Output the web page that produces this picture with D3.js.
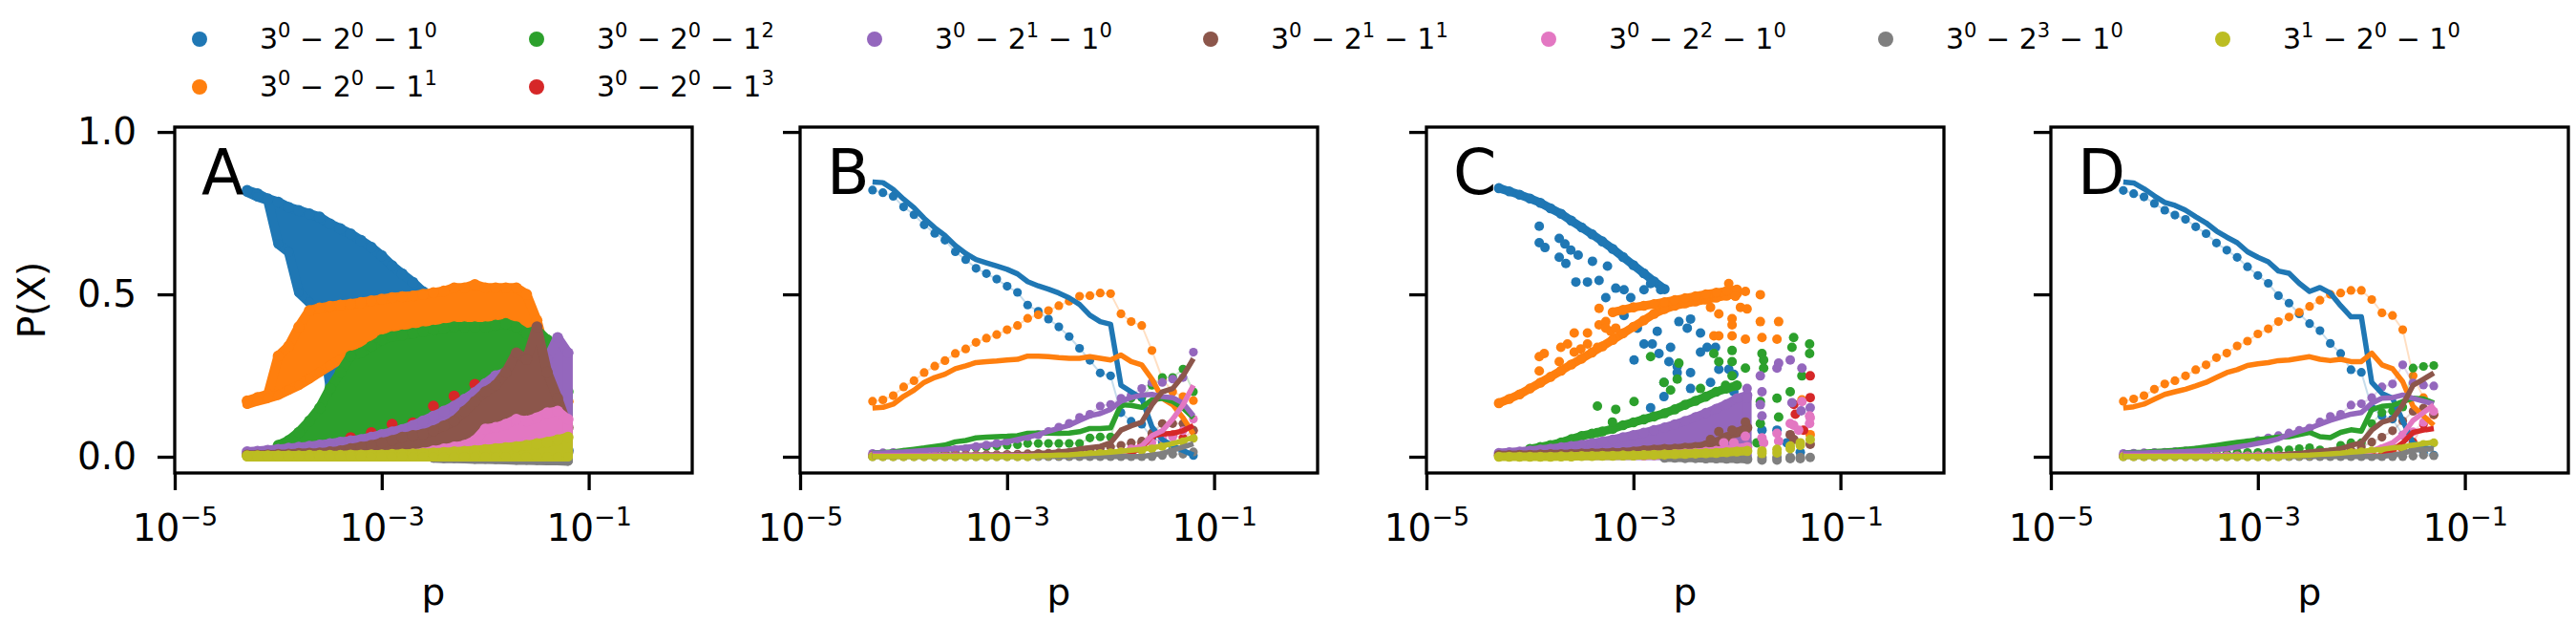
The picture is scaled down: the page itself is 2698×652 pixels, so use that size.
<!DOCTYPE html>
<html>
<head>
<meta charset="utf-8">
<script src="https://cdn.jsdelivr.net/npm/d3@7"></script>
<style>
  body { margin: 0; background: #fff; }
  svg { display: block; }
  text { font-family: "DejaVu Sans", sans-serif; }
</style>
</head>
<body>
<svg id="fig" width="2698" height="652"></svg>
<script>
// p grid shared by all panels
var pGrid = [5.01e-5, 6.31e-5, 7.94e-5, 1.00e-4, 1.26e-4, 1.58e-4, 2.00e-4, 2.51e-4, 3.16e-4, 3.98e-4,
             5.01e-4, 6.31e-4, 7.94e-4, 1.00e-3, 1.26e-3, 1.58e-3, 2.00e-3, 2.51e-3, 3.16e-3, 3.98e-3,
             5.01e-3, 6.31e-3, 7.94e-3, 1.00e-2, 1.26e-2, 1.58e-2, 2.00e-2, 2.51e-2, 3.16e-2, 3.98e-2,
             5.01e-2, 6.31e-2];
// exponents of 3^a - 2^b - 1^c
var seriesExp = [[0,0,0],[0,0,1],[0,0,2],[0,0,3],[0,1,0],[0,1,1],[0,2,0],[0,3,0],[1,0,0]];
var colors = ["#1f77b4","#ff7f0e","#2ca02c","#d62728","#9467bd","#8c564b","#e377c2","#7f7f7f","#bcbd22"];
var panelNames = ["A","B","C","D"];
var xTicks = [1e-5, 1e-3, 1e-1];
var yTicks = [0, 0.5, 1.0];

// ---- panel A : envelope of the dense cloud (low / high) ----
var aBlueHi = [0.82,0.81,0.794,0.784,0.768,0.758,0.748,0.738,0.717,0.702,0.686,0.666,0.645,0.619,0.588,0.563,0.537,0.508,0.47,0.44,0.40,0.36,0.32,0.28,0.24,0.20,0.16,0.12,0.08,0.06,0.04,0.02];
var aBlueLo = [0.815,0.80,0.79,0.655,0.63,0.506,0.475,0.44,0.22,0.24,0.26,0.27,0.27,0.27,0.27,0.27,0.27,0.26,0.24,0.22,0.20,0.18,0.15,0.12,0.10,0.08,0.06,0.04,0.02,0.01,0.0,0.0];
var aOrangeHi = [0.172,0.182,0.192,0.31,0.34,0.40,0.45,0.458,0.463,0.467,0.47,0.475,0.48,0.485,0.49,0.493,0.495,0.50,0.505,0.51,0.52,0.52,0.53,0.52,0.52,0.52,0.52,0.50,0.42,0.30,0.18,0.17];
var aOrangeLo = [0.162,0.172,0.18,0.19,0.205,0.22,0.24,0.26,0.28,0.30,0.30,0.30,0.30,0.30,0.30,0.30,0.30,0.30,0.30,0.30,0.30,0.30,0.30,0.30,0.30,0.30,0.30,0.25,0.20,0.18,0.14,0.14];
var aGreenHi = [null,null,null,0.035,0.05,0.075,0.11,0.15,0.21,0.26,0.31,0.32,0.34,0.36,0.37,0.375,0.38,0.385,0.39,0.395,0.40,0.40,0.40,0.40,0.405,0.41,0.40,0.38,0.39,0.36,0.34,0.20];
var aGreenLo = [null,null,null,0.02,0.02,0.02,0.02,0.02,0.02,0.02,0.02,0.025,0.03,0.03,0.035,0.04,0.04,0.045,0.05,0.05,0.05,0.05,0.05,0.06,0.06,0.06,0.06,0.06,0.05,0.05,0.05,0.10];
var aRed = [null,null,null,null,null,null,null,null,null,null,0.059,null,0.074,null,0.10,null,0.104,null,0.156,null,0.187,null,0.223,null,null,null,null,null,0.25,null,0.20,null];
var aPurpleHi = [0.015,0.017,0.02,0.023,0.026,0.029,0.032,0.036,0.04,0.045,0.049,0.053,0.06,0.068,0.076,0.084,0.096,0.11,0.125,0.14,0.156,0.177,0.198,0.225,0.249,0.26,0.27,0.28,0.28,0.30,0.367,0.32];
var aPurpleLo = [0.003,0.003,0.003,0.003,0.003,0.003,0.003,0.003,0.003,0.003,0.003,0.003,0.003,0.003,0.003,0.003,0.003,0.003,0.003,0.003,0.003,0.003,0.003,0.003,0.003,0.003,0.003,0.003,0.003,0.003,0.003,0.003];
var aBrownHi = [0.005,0.005,0.006,0.007,0.008,0.01,0.011,0.012,0.015,0.018,0.025,0.03,0.035,0.043,0.05,0.06,0.065,0.07,0.08,0.095,0.11,0.14,0.17,0.2,0.22,0.26,0.32,0.30,0.40,0.26,0.18,0.09];
var aBrownLo = [0.002,0.002,0.002,0.002,0.002,0.002,0.002,0.002,0.002,0.002,0.002,0.002,0.002,0.002,0.002,0.002,0.002,0.002,0.002,0.002,0.002,0.002,0.002,0.002,0.002,0.002,0.002,0.002,0.002,0.002,0.002,0.002];
var aPinkHi = [null,null,null,null,null,null,null,null,null,null,null,null,null,null,0.004,0.005,0.008,0.012,0.018,0.024,0.03,0.035,0.05,0.085,0.09,0.10,0.115,0.11,0.12,0.135,0.14,0.115];
var aPinkLo = [null,null,null,null,null,null,null,null,null,null,null,null,null,null,0.002,0.002,0.002,0.002,0.002,0.002,0.002,0.002,0.002,0.002,0.002,0.002,0.002,0.002,0.002,0.002,0.002,0.002];
var aGrayHi = [null,null,null,null,null,null,null,null,null,null,null,null,null,null,null,null,null,null,0.002,0.003,0.003,0.004,0.005,0.005,0.006,0.007,0.008,0.009,0.01,0.012,0.013,0.015];
var aGrayLo = [null,null,null,null,null,null,null,null,null,null,null,null,null,null,null,null,null,null,-0.004,-0.005,-0.005,-0.006,-0.007,-0.007,-0.008,-0.009,-0.01,-0.01,-0.011,-0.012,-0.012,-0.013];
var aYellowHi = [0.003,0.003,0.003,0.003,0.003,0.003,0.004,0.004,0.004,0.004,0.005,0.005,0.006,0.006,0.007,0.008,0.009,0.01,0.012,0.013,0.015,0.017,0.019,0.022,0.025,0.028,0.031,0.035,0.04,0.045,0.052,0.06];
var aYellowLo = [0,0,0,0,0,0,0,0,0,0,0,0,0,0,0,0,0,0,0,0,0,0,0,0,0,0,0,0,0,0,0,0];

// ---- panel B : measured dots and model line ----
var bBlueDots = [0.821,0.813,0.802,0.769,0.745,0.714,0.688,0.667,0.631,0.607,0.58,0.564,0.547,0.525,0.506,0.467,0.448,0.424,0.40,0.37,0.334,0.297,0.258,0.249,0.136,0.109,0.10,0.058,0.044,0.024,0.014,0.004];
var bBlueLine = [0.846,0.844,0.823,0.793,0.767,0.734,0.705,0.681,0.65,0.626,0.607,0.597,0.587,0.577,0.563,0.539,0.526,0.516,0.504,0.489,0.469,0.436,0.416,0.408,0.22,0.20,0.18,0.092,0.053,0.034,0.019,0.005];
var bOrangeDots = [0.171,0.175,0.188,0.215,0.234,0.259,0.279,0.296,0.318,0.332,0.352,0.365,0.376,0.391,0.404,0.426,0.437,0.45,0.465,0.479,0.494,0.496,0.504,0.502,0.44,0.416,0.404,0.327,0.24,0.20,0.185,0.173];
var bOrangeLine = [0.15,0.152,0.162,0.186,0.205,0.229,0.244,0.254,0.271,0.28,0.29,0.293,0.295,0.298,0.30,0.31,0.31,0.308,0.305,0.303,0.303,0.308,0.303,0.298,0.313,0.293,0.283,0.239,0.18,0.16,0.12,0.07];
var bGreenDots = [0.004,0.004,0.005,0.005,0.006,0.007,0.01,0.014,0.019,0.024,0.028,0.031,0.033,0.035,0.037,0.041,0.041,0.041,0.041,0.041,0.041,0.058,0.061,0.061,0.16,0.18,0.182,0.22,0.244,0.244,0.27,0.20];
var bGreenLine = [0.012,0.013,0.015,0.019,0.023,0.027,0.032,0.036,0.046,0.05,0.058,0.06,0.062,0.063,0.065,0.072,0.073,0.073,0.072,0.073,0.077,0.087,0.087,0.089,0.16,0.158,0.152,0.175,0.18,0.17,0.15,0.12];
var bRedDots = [0.002,0.002,0.002,0.002,0.002,0.002,0.002,0.002,0.002,0.002,0.002,0.002,0.002,0.002,0.002,0.002,0.002,0.002,0.002,0.002,0.002,0.002,0.002,0.002,0.005,0.01,0.04,0.063,0.068,0.068,0.058,0.08];
var bRedLine = [0.002,0.002,0.002,0.002,0.002,0.002,0.002,0.002,0.002,0.002,0.002,0.002,0.002,0.002,0.002,0.002,0.002,0.002,0.002,0.002,0.002,0.002,0.002,0.002,0.005,0.012,0.027,0.065,0.07,0.072,0.08,0.096];
var bPurpleDots = [0.01,0.012,0.013,0.014,0.016,0.018,0.019,0.02,0.022,0.024,0.031,0.036,0.041,0.048,0.055,0.062,0.068,0.078,0.091,0.103,0.121,0.131,0.156,0.161,0.18,0.19,0.21,0.229,0.229,0.239,0.244,0.322];
var bPurpleLine = [0.011,0.012,0.013,0.015,0.017,0.019,0.021,0.023,0.026,0.029,0.033,0.036,0.04,0.046,0.053,0.06,0.068,0.078,0.088,0.097,0.112,0.126,0.133,0.146,0.171,0.182,0.19,0.192,0.185,0.182,0.165,0.126];
var bBrownDots = [0.004,0.004,0.004,0.004,0.004,0.004,0.004,0.004,0.004,0.005,0.005,0.006,0.006,0.007,0.008,0.009,0.01,0.011,0.012,0.013,0.015,0.02,0.025,0.03,0.035,0.043,0.048,0.073,0.102,0.102,0.102,0.082];
var bBrownLine = [0.004,0.004,0.004,0.004,0.004,0.004,0.004,0.005,0.005,0.005,0.005,0.006,0.006,0.006,0.007,0.008,0.01,0.012,0.015,0.018,0.024,0.028,0.032,0.043,0.082,0.095,0.106,0.16,0.20,0.21,0.249,0.302];
var bPinkDots = [0.003,0.003,0.003,0.003,0.003,0.003,0.003,0.003,0.003,0.003,0.003,0.003,0.003,0.003,0.003,0.003,0.003,0.003,0.003,0.003,0.003,0.003,0.003,0.01,0.015,0.024,0.028,0.043,0.057,0.06,0.08,0.116];
var bPinkLine = [0.003,0.003,0.003,0.003,0.003,0.003,0.003,0.003,0.003,0.003,0.003,0.003,0.003,0.003,0.003,0.003,0.003,0.003,0.003,0.003,0.003,0.003,0.003,0.008,0.012,0.024,0.033,0.065,0.08,0.116,0.16,0.22];
var bGrayDots = [0,0,0,0,0,0,0,0,0,0,0,0,0,0,0,0,0,0,0,0,0,0,0,0,0,0,0,0,0.004,0.008,0.008,0.015];
var bGrayLine = [0.001,0.001,0.001,0.001,0.001,0.001,0.001,0.001,0.001,0.001,0.001,0.001,0.001,0.001,0.001,0.001,0.001,0.001,0.001,0.001,0.001,0.001,0.001,0.001,0.001,0.001,0.001,0.005,0.01,0.02,0.03,0.04];
var bYellowDots = [0,0,0,0,0,0,0,0,0,0,0,0,0,0,0,0,0.002,0.003,0.004,0.005,0.006,0.008,0.01,0.012,0.015,0.018,0.02,0.024,0.032,0.036,0.046,0.057];
var bYellowLine = [0.001,0.001,0.001,0.001,0.001,0.001,0.001,0.001,0.001,0.001,0.001,0.001,0.001,0.001,0.001,0.001,0.003,0.004,0.005,0.006,0.008,0.01,0.012,0.014,0.017,0.02,0.023,0.027,0.034,0.04,0.05,0.06];

// ---- panel C : main strands on the grid + scattered runs [log10 p, P] ----
var cBlueMain = [0.827,0.817,0.807,0.795,0.782,0.765,0.748,0.727,0.706,0.685,0.663,0.64,0.615,0.59,0.565,0.54,0.516];
var cOrangeMain = [0.165,0.178,0.192,0.21,0.228,0.246,0.265,0.284,0.302,0.321,0.34,0.36,0.38,0.40,0.42,0.44,0.455,0.465,0.472,0.478,0.484,0.49,0.496,0.502];
var cOrangeUpper = [null,null,null,null,null,null,null,null,null,null,null,0.445,0.452,0.46,0.465,0.47,0.476,0.482,0.488,0.494,0.50,0.505,0.51,0.515];
var cGreenMain = [null,null,null,0.024,0.03,0.036,0.044,0.054,0.064,0.071,0.078,0.086,0.097,0.106,0.115,0.124,0.134,0.146,0.16,0.172,0.185,0.20,0.21,0.22];
var cPurpleTop = [0.012,0.014,0.016,0.019,0.022,0.025,0.029,0.033,0.037,0.042,0.047,0.053,0.06,0.067,0.074,0.082,0.09,0.1,0.11,0.122,0.135,0.148,0.162,0.18,0.19];
var cPurpleBase = [0.003,0.003,0.003,0.003,0.003,0.003,0.003,0.003,0.003,0.003,0.003,0.003,0.003,0.003,0.003,0.003,0.003,0.003,0.003,0.003,0.003,0.003,0.003,0.003,0.003];
var cBrownMain = [0.005,0.005,0.006,0.006,0.007,0.008,0.008,0.009,0.01,0.011,0.012,0.013,0.014,0.016,0.02,0.022,0.024,0.025,0.028,0.03,0.035,0.045,0.06,0.075,0.09];
var cPinkMain = [null,null,null,null,null,null,null,null,null,null,null,null,null,null,0.004,0.005,0.006,0.008,0.01,0.012,0.015,0.018,0.022,0.026,0.03];
var cGrayMain = [null,null,null,null,null,null,null,null,null,null,null,null,null,null,null,null,-0.003,-0.003,-0.004,-0.004,-0.005,-0.005,-0.006,-0.006,-0.007];
var cYellowMain = [0,0,0,0,0,0,0.001,0.001,0.002,0.002,0.003,0.003,0.004,0.004,0.005,0.006,0.007,0.008,0.009,0.01,0.011,0.012,0.014,0.016,0.018];

var cBlueScatter = [[-3.91,0.71],[-3.91,0.659],[-3.855,0.644],[-3.717,0.672],[-3.662,0.655],[-3.605,0.636],[-3.534,0.621],[-3.717,0.614],[-3.653,0.595],[-3.556,0.538],[-3.444,0.538],[-3.396,0.602],[-3.332,0.543],[-3.267,0.49],[-3.251,0.587],[-3.171,0.519],[-3.091,0.514],[-3.026,0.49],[-2.898,0.514],[-2.834,0.533],[-2.737,0.514],[-2.994,0.298],[-2.898,0.347],[-2.818,0.347],[-2.753,0.318],[-2.657,0.293],[-2.577,0.278],[-2.561,0.416],[-2.48,0.396],[-2.448,0.424],[-2.352,0.381],[-2.288,0.337],[-2.207,0.337],[-2.352,0.322],[-2.255,0.229],[-2.448,0.21],[-2.705,0.185],[-2.834,0.151],[-2.175,0.269],[-2.079,0.269],[-2.03,0.254],[-2.03,0.2],[-1.95,0.136],[-1.918,0.043],[-1.758,0.082],[-1.613,0.082],[-1.517,0.043],[-1.388,0.014],[-3.091,0.435],[-2.962,0.396],[-2.77,0.386],[-2.641,0.337],[-2.577,0.259],[-2.448,0.259],[-2.705,0.229]];
var cOrangeScatter = [[-3.332,0.457],[-3.572,0.381],[-3.444,0.381],[-3.332,0.406],[-3.267,0.416],[-3.219,0.386],[-3.91,0.308],[-3.91,0.264],[-3.862,0.318],[-3.717,0.293],[-3.701,0.337],[-3.637,0.347],[-3.572,0.322],[-3.508,0.332],[-3.444,0.347],[-3.348,0.337],[-3.267,0.396],[-3.171,0.396],[-2.255,0.46],[-2.175,0.44],[-2.079,0.533],[-2.015,0.494],[-1.966,0.46],[-1.918,0.509],[-2.047,0.425],[-2.047,0.406],[-1.902,0.455],[-1.774,0.499],[-1.774,0.416],[-1.597,0.416],[-2.223,0.372],[-2.175,0.372],[-2.047,0.372],[-1.918,0.362],[-1.758,0.367],[-1.613,0.362],[-1.292,0.068],[-1.372,0.175]];
var cGreenScatter = [[-3.348,0.156],[-3.171,0.146],[-2.994,0.17],[-3.348,0.074],[-3.54,0.053],[-3.203,0.107],[-2.834,0.308],[-2.705,0.229],[-2.641,0.205],[-2.561,0.288],[-2.577,0.239],[-2.352,0.21],[-2.223,0.318],[-2.175,0.293],[-2.047,0.327],[-2.047,0.293],[-2.047,0.249],[-2.11,0.22],[-1.918,0.273],[-1.902,0.043],[-1.758,0.318],[-1.742,0.298],[-1.742,0.273],[-1.774,0.17],[-1.774,0.102],[-1.613,0.18],[-1.597,0.122],[-1.485,0.2],[-1.468,0.337],[-1.452,0.367],[-1.372,0.249],[-1.298,0.347],[-1.298,0.318],[-1.806,0.043]];
var cRedScatter = [[-1.292,0.249],[-1.292,0.182],[-1.436,0.131],[-1.356,0.082],[-1.45,0.161],[-2.223,0.023]];
var cPurpleScatter = [[-1.774,0.249],[-1.758,0.2],[-1.774,0.16],[-1.758,0.126],[-1.597,0.288],[-1.613,0.273],[-1.485,0.298],[-1.372,0.273],[-1.468,0.166],[-1.292,0.151],[-1.38,0.141],[-1.902,0.18],[-1.902,0.21]];
var cBrownScatter = [[-2.255,0.053],[-2.175,0.077],[-2.047,0.082],[-1.918,0.107],[-2.13,0.043],[-1.485,0.068],[-1.292,0.038],[-1.45,0.053],[-1.92,0.08]];
var cPinkScatter = [[-2.127,0.043],[-2.03,0.043],[-1.918,0.063],[-1.758,0.058],[-1.742,0.043],[-1.613,0.072],[-1.597,0.048],[-1.485,0.102],[-1.452,0.097],[-1.372,0.17],[-1.298,0.126],[-1.298,0.102],[-1.292,0.12],[-1.404,0.082]];
var cGrayScatter = [[-1.918,-0.005],[-1.758,-0.002],[-1.613,-0.002],[-1.485,-0.002],[-1.388,-0.002],[-1.292,-0.002],[-1.758,-0.01],[-1.613,-0.01],[-1.485,-0.006],[-1.388,-0.006]];
var cYellowScatter = [[-1.758,0.018],[-1.613,0.023],[-1.485,0.033],[-1.388,0.043],[-1.292,0.053],[-1.758,0.01],[-1.613,0.012],[-1.485,0.025],[-1.388,0.035]];

// ---- panel D : measured dots and model line ----
var dBlueDots = [0.82,0.81,0.80,0.78,0.759,0.744,0.731,0.708,0.687,0.658,0.636,0.614,0.585,0.558,0.534,0.496,0.473,0.44,0.41,0.388,0.349,0.318,0.268,0.26,0.15,0.126,0.116,0.067,0.024,0.014,0.005];
var dBlueLine = [0.846,0.843,0.825,0.803,0.783,0.774,0.759,0.739,0.72,0.695,0.676,0.659,0.631,0.614,0.60,0.572,0.565,0.534,0.509,0.521,0.504,0.465,0.431,0.431,0.229,0.195,0.18,0.111,0.043,0.027,0.024];
var dOrangeDots = [0.171,0.178,0.188,0.208,0.224,0.234,0.249,0.268,0.283,0.305,0.319,0.341,0.356,0.378,0.394,0.416,0.43,0.445,0.463,0.482,0.50,0.504,0.512,0.512,0.484,0.443,0.435,0.391,0.249,0.182,0.129];
var dOrangeLine = [0.15,0.154,0.162,0.177,0.192,0.20,0.208,0.218,0.229,0.244,0.259,0.268,0.281,0.286,0.29,0.296,0.298,0.303,0.308,0.30,0.296,0.30,0.293,0.293,0.319,0.283,0.271,0.231,0.155,0.126,0.097];
var dGreenDots = [0.003,0.003,0.003,0.004,0.004,0.005,0.006,0.007,0.008,0.009,0.01,0.013,0.013,0.013,0.013,0.021,0.021,0.025,0.028,0.021,0.015,0.035,0.043,0.043,0.102,0.136,0.141,0.153,0.273,0.278,0.281];
var dGreenLine = [0.012,0.013,0.014,0.016,0.018,0.02,0.023,0.026,0.03,0.035,0.04,0.044,0.048,0.052,0.057,0.06,0.062,0.068,0.075,0.062,0.059,0.075,0.083,0.079,0.145,0.155,0.158,0.17,0.18,0.178,0.165];
var dRedDots = [0.002,0.002,0.002,0.002,0.002,0.002,0.002,0.002,0.002,0.002,0.002,0.002,0.002,0.002,0.002,0.002,0.002,0.002,0.002,0.002,0.002,0.002,0.002,0.002,0.002,0.002,0.01,0.024,0.045,0.10,0.13];
var dRedLine = [0.002,0.002,0.002,0.002,0.002,0.002,0.002,0.002,0.002,0.002,0.002,0.002,0.002,0.002,0.002,0.002,0.002,0.002,0.002,0.002,0.002,0.002,0.002,0.002,0.002,0.002,0.02,0.043,0.075,0.082,0.087];
var dPurpleDots = [0.01,0.011,0.012,0.013,0.014,0.016,0.018,0.02,0.023,0.027,0.032,0.037,0.043,0.05,0.058,0.065,0.073,0.081,0.088,0.107,0.124,0.131,0.159,0.163,0.182,0.215,0.224,0.283,0.227,0.221,0.218];
var dPurpleLine = [0.011,0.011,0.012,0.013,0.014,0.015,0.016,0.018,0.02,0.022,0.025,0.03,0.035,0.041,0.047,0.055,0.068,0.078,0.088,0.10,0.112,0.122,0.131,0.136,0.165,0.18,0.182,0.19,0.18,0.171,0.163];
var dBrownDots = [0.003,0.003,0.003,0.003,0.003,0.003,0.003,0.003,0.003,0.003,0.003,0.003,0.003,0.003,0.003,0.003,0.003,0.003,0.003,0.01,0.012,0.015,0.02,0.03,0.045,0.06,0.08,0.11,0.14,0.15,0.13];
var dBrownLine = [0.004,0.004,0.004,0.004,0.004,0.004,0.004,0.004,0.004,0.004,0.004,0.004,0.004,0.004,0.005,0.006,0.008,0.01,0.015,0.018,0.02,0.025,0.035,0.043,0.082,0.106,0.116,0.16,0.22,0.239,0.258];
var dPinkDots = [0.003,0.003,0.003,0.003,0.003,0.003,0.003,0.003,0.003,0.003,0.003,0.003,0.003,0.003,0.003,0.003,0.003,0.003,0.003,0.003,0.003,0.003,0.003,0.008,0.015,0.025,0.03,0.067,0.077,0.106,0.14];
var dPinkLine = [0.003,0.003,0.003,0.003,0.003,0.003,0.003,0.003,0.003,0.003,0.003,0.003,0.003,0.003,0.003,0.003,0.003,0.003,0.003,0.003,0.003,0.003,0.005,0.01,0.018,0.03,0.043,0.068,0.112,0.136,0.16];
var dGrayDots = [0,0,0,0,0,0,0,0,0,0,0,0,0,0,0,0,0,0,0,0,0,0,0,0,0,0,0,0,0.002,0.005,0.003];
var dGrayLine = [0.001,0.001,0.001,0.001,0.001,0.001,0.001,0.001,0.001,0.001,0.001,0.001,0.001,0.001,0.001,0.001,0.001,0.001,0.001,0.001,0.001,0.001,0.001,0.001,0.001,0.001,0.005,0.01,0.02,0.023,0.024];
var dYellowDots = [0,0,0,0,0,0,0,0,0,0,0,0,0,0,0,0,0.002,0.003,0.004,0.006,0.008,0.01,0.013,0.015,0.018,0.021,0.025,0.028,0.035,0.038,0.043];
var dYellowLine = [0.001,0.001,0.001,0.001,0.001,0.001,0.001,0.001,0.001,0.001,0.001,0.001,0.001,0.001,0.001,0.001,0.003,0.004,0.005,0.007,0.009,0.011,0.014,0.016,0.02,0.023,0.027,0.03,0.036,0.04,0.045];

// tables built from the arrays above
var aBands = [[aBlueLo,aBlueHi],[aOrangeLo,aOrangeHi],[aGreenLo,aGreenHi],[aRed,aRed],[aPurpleLo,aPurpleHi],
              [aBrownLo,aBrownHi],[aPinkLo,aPinkHi],[aGrayLo,aGrayHi],[aYellowLo,aYellowHi]];
var bDots = [bBlueDots,bOrangeDots,bGreenDots,bRedDots,bPurpleDots,bBrownDots,bPinkDots,bGrayDots,bYellowDots];
var bLines = [bBlueLine,bOrangeLine,bGreenLine,bRedLine,bPurpleLine,bBrownLine,bPinkLine,bGrayLine,bYellowLine];
var dDots = [dBlueDots,dOrangeDots,dGreenDots,dRedDots,dPurpleDots,dBrownDots,dPinkDots,dGrayDots,dYellowDots];
var dLines = [dBlueLine,dOrangeLine,dGreenLine,dRedLine,dPurpleLine,dBrownLine,dPinkLine,dGrayLine,dYellowLine];
var cStrands = [[[cBlueMain,cBlueMain]], [[cOrangeMain,cOrangeMain],[cOrangeUpper,cOrangeUpper]], [[cGreenMain,cGreenMain]], [],
                [[cPurpleBase,cPurpleTop]], [[cBrownMain,cBrownMain]], [[cPinkMain,cPinkMain]], [[cGrayMain,cGrayMain]], [[cYellowMain,cYellowMain]]];
var cScatter = [cBlueScatter,cOrangeScatter,cGreenScatter,cRedScatter,cPurpleScatter,cBrownScatter,cPinkScatter,cGrayScatter,cYellowScatter];

// ---- layout ----
var panelLeft = [183, 838, 1494, 2148], panelTop = 133, pw = 542, ph = 362;
var svg = d3.select("#fig");
var x = d3.scaleLog().domain([1e-5, 1]).range([0, pw]);
var y = d3.scaleLinear().domain([-0.05, 1.015]).range([ph, 0]);

function isDef(v) { return v !== null && v !== undefined; }

// dense cloud: filled band, fattened by a stroke of one dot diameter
function drawBand(g, lo, hi, color, r) {
    var pts = pGrid.map(function(p, k) { return {p: p, lo: lo[k], hi: hi[k]}; });
    var area = d3.area()
        .defined(function(d) { return isDef(d.lo) && isDef(d.hi); })
        .x(function(d) { return x(d.p); })
        .y0(function(d) { return y(d.lo); })
        .y1(function(d) { return y(d.hi); });
    g.append("path").attr("d", area(pts))
        .attr("fill", color).attr("stroke", color)
        .attr("stroke-width", 2 * r).attr("stroke-linejoin", "round").attr("stroke-linecap", "round");
    var edge = pts.filter(function(d) { return isDef(d.lo) && isDef(d.hi); });
    g.selectAll(null).data(edge).enter().append("circle")
        .attr("cx", function(d) { return x(d.p); }).attr("cy", function(d) { return y(d.hi); })
        .attr("r", r + 0.8).attr("fill", color);
    g.selectAll(null).data(edge).enter().append("circle")
        .attr("cx", function(d) { return x(d.p); }).attr("cy", function(d) { return y(d.lo); })
        .attr("r", r).attr("fill", color);
}

function drawA(g) {
    aBands.forEach(function(b, i) { drawBand(g, b[0], b[1], colors[i], 5); });
}

function drawC(g) {
    cStrands.forEach(function(list, i) {
        list.forEach(function(b) { drawBand(g, b[0], b[1], colors[i], 4.5); });
        g.selectAll(null).data(cScatter[i]).enter().append("circle")
            .attr("cx", function(d) { return x(Math.pow(10, d[0])); })
            .attr("cy", function(d) { return y(d[1]); })
            .attr("r", 5).attr("fill", colors[i]);
    });
}

function drawDotsAndLines(g, dots, lines) {
    dots.forEach(function(vals, i) {
        var pts = vals.map(function(v, k) { return [pGrid[k], v]; });
        g.append("path").attr("d", d3.line().x(function(d) { return x(d[0]); }).y(function(d) { return y(d[1]); })(pts))
            .attr("fill", "none").attr("stroke", colors[i]).attr("stroke-opacity", 0.25).attr("stroke-width", 2);
        g.selectAll(null).data(pts).enter().append("circle")
            .attr("cx", function(d) { return x(d[0]); }).attr("cy", function(d) { return y(d[1]); })
            .attr("r", 4.6).attr("fill", colors[i]);
    });
    lines.forEach(function(vals, i) {
        var pts = vals.map(function(v, k) { return [pGrid[k], v]; });
        g.append("path").attr("d", d3.line().x(function(d) { return x(d[0]); }).y(function(d) { return y(d[1]); })(pts))
            .attr("fill", "none").attr("stroke", colors[i]).attr("stroke-width", 5.5)
            .attr("stroke-linejoin", "round");
    });
}

panelNames.forEach(function(name, i) {
    var g = svg.append("g").attr("transform", "translate(" + panelLeft[i] + "," + panelTop + ")");
    if (i == 0) drawA(g);
    if (i == 1) drawDotsAndLines(g, bDots, bLines);
    if (i == 2) drawC(g);
    if (i == 3) drawDotsAndLines(g, dDots, dLines);

    // y axis (labels only on the first panel)
    var ya = g.append("g")
        .call(d3.axisLeft(y).tickValues(yTicks).tickSize(18).tickPadding(22)
              .tickFormat(i == 0 ? d3.format(".1f") : function() { return ""; }));
    ya.select(".domain").remove();
    ya.attr("font-size", 39).attr("font-family", "DejaVu Sans");
    ya.selectAll(".tick line").attr("stroke", "#000").attr("stroke-width", 3.3);
    ya.selectAll(".tick text").attr("fill", "#000");

    // x axis with 10^n labels
    var xa = g.append("g").attr("transform", "translate(0," + ph + ")")
        .call(d3.axisBottom(x).tickValues(xTicks).tickSize(18).tickFormat(function() { return ""; }));
    xa.select(".domain").remove();
    xa.selectAll(".tick line").attr("stroke", "#000").attr("stroke-width", 3.3);
    xa.selectAll(".tick text").remove();
    xa.selectAll(".tick").append("text")
        .attr("y", 71).attr("text-anchor", "middle").attr("fill", "#000")
        .attr("font-size", 39).attr("font-family", "DejaVu Sans")
        .each(function(d) {
            var t = d3.select(this);
            var e = Math.round(Math.log10(d));
            t.append("tspan").text("10");
            t.append("tspan").attr("font-size", 27).attr("dy", -16).text((e < 0 ? "\u2212" : "") + Math.abs(e));
        });

    // frame
    g.append("rect").attr("width", pw).attr("height", ph)
        .attr("fill", "none").attr("stroke", "#000").attr("stroke-width", 3.3);

    g.append("text").attr("x", 28).attr("y", 70).attr("font-size", 65).attr("fill", "#000").text(name);

    svg.append("text").attr("x", panelLeft[i] + pw / 2).attr("y", 633)
        .attr("text-anchor", "middle").attr("font-size", 39).text("p");
});

svg.append("text").attr("transform", "translate(47," + (panelTop + ph / 2) + ") rotate(-90)")
    .attr("text-anchor", "middle").attr("font-size", 39).text("P(X)");

// ---- legend: 7 columns, filled column by column ----
var legColX = [209, 562, 916, 1268, 1622, 1975, 2328];
var legRowY = [41, 91];
seriesExp.forEach(function(ex, i) {
    var col = i < 4 ? Math.floor(i / 2) : i - 2;
    var row = i < 4 ? i % 2 : 0;
    var cx = legColX[col], cy = legRowY[row];
    svg.append("circle").attr("cx", cx).attr("cy", cy).attr("r", 8).attr("fill", colors[i]);
    var t = svg.append("text").attr("x", cx + 63).attr("y", cy + 10)
        .attr("font-size", 30).attr("fill", "#000").style("white-space", "pre");
    var bases = ["3", "2", "1"];
    bases.forEach(function(b, j) {
        t.append("tspan").attr("dy", j == 0 ? 0 : 12).text((j == 0 ? "" : " \u2212 ") + b);
        t.append("tspan").attr("font-size", 21).attr("dy", -12).text(ex[j]);
    });
});
</script>
</body>
</html>
